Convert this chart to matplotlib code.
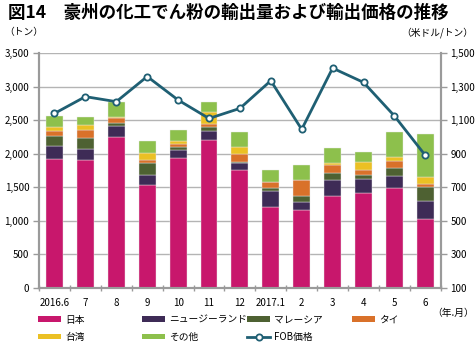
import numpy as np
import matplotlib.pyplot as plt
from matplotlib.lines import Line2D
from matplotlib.patches import Patch
from matplotlib.ticker import FuncFormatter

plt.rcParams['font.family'] = ['Noto Sans CJK JP', 'DejaVu Sans']

months = ['2016.6', '7', '8', '9', '10', '11', '12', '2017.1', '2', '3', '4', '5', '6']

# export volume by destination (tonnes)
japan    = [1920, 1910, 2250, 1530, 1930, 2200, 1750, 1200, 1160, 1370, 1420, 1485, 1030]
nz       = [200, 155, 170, 160, 120, 135, 115, 250, 120, 245, 205, 190, 270]
malaysia = [140, 175, 35, 165, 45, 70, 15, 35, 90, 100, 55, 105, 205]
thailand = [80, 115, 70, 45, 55, 35, 110, 90, 245, 110, 70, 115, 50]
taiwan   = [60, 75, 20, 110, 40, 180, 110, 10, 0, 35, 130, 60, 100]
others   = [160, 120, 230, 175, 165, 150, 220, 170, 220, 230, 150, 375, 640]

# FOB price (USD/tonne)
fob = [1140, 1240, 1210, 1360, 1220, 1110, 1170, 1335, 1045, 1410, 1325, 1125, 890]

series = [
    ('日本', japan, '#C8176C'),
    ('ニュージーランド', nz, '#3E2B56'),
    ('マレーシア', malaysia, '#4E6132'),
    ('タイ', thailand, '#D9712A'),
    ('台湾', taiwan, '#EBC024'),
    ('その他', others, '#8DC04C'),
]
line_color = '#1F5F73'
spine_color = '#9a9a9a'
fs = 7

fig = plt.figure(figsize=(4.76, 3.42), dpi=100)
ax = fig.add_axes([0.082, 0.158, 0.844, 0.687])

x = np.arange(len(months))
bottom = np.zeros(len(months))
for name, vals, col in series:
    ax.bar(x, vals, 0.55, bottom=bottom, color=col, edgecolor='#e8e8e8',
           linewidth=0.3, zorder=2)
    bottom += np.array(vals)

ax.set_xlim(-0.5, len(months) - 0.5)
ax.set_ylim(0, 3500)
ax.set_yticks(np.arange(0, 3501, 500))
ax.yaxis.set_major_formatter(FuncFormatter(lambda v, p: f'{int(v):,}'))
ax.yaxis.grid(True, color='#b4b4b4', linewidth=1.0, zorder=0)
ax.set_axisbelow(True)

ax.set_xticks(x)
ax.set_xticklabels(months, fontsize=fs)
ax.set_xticks(np.arange(-0.5, len(months), 1), minor=True)
ax.tick_params(axis='x', which='major', length=0, pad=7)
ax.tick_params(axis='x', which='minor', length=4, direction='inout',
               color=spine_color, width=1)
ax.tick_params(axis='y', labelsize=fs, length=4, color=spine_color, width=1, pad=3)

for s in ['left', 'bottom', 'right']:
    ax.spines[s].set_color(spine_color)
    ax.spines[s].set_linewidth(1.5)
ax.spines['top'].set_visible(False)

ax2 = ax.twinx()
ax2.plot(x, fob, color=line_color, linewidth=2, marker='o', markersize=4.5,
         markerfacecolor='white', markeredgecolor=line_color, markeredgewidth=1.3,
         zorder=5)
ax2.set_ylim(100, 1500)
ax2.set_yticks(np.arange(100, 1501, 200))
ax2.yaxis.set_major_formatter(FuncFormatter(lambda v, p: f'{int(v):,}'))
ax2.tick_params(axis='y', labelsize=fs, length=4, color=spine_color, width=1, pad=3)
for s in ['left', 'bottom', 'right']:
    ax2.spines[s].set_color(spine_color)
    ax2.spines[s].set_linewidth(1.5)
ax2.spines['top'].set_visible(False)

fig.text(0.016, 0.963, '図14　豪州の化工でん粉の輸出量および輸出価格の推移',
         fontsize=12.6, fontweight='bold', va='center', ha='left')
fig.text(0.008, 0.905, '（トン）', fontsize=fs, va='center', ha='left')
fig.text(0.995, 0.905, '（米ドル/トン）', fontsize=fs, va='center', ha='right')
fig.text(0.995, 0.085, '（年.月）', fontsize=fs, va='center', ha='right')

# legend laid out as four columns, two rows
handles = [Patch(facecolor=c, edgecolor='none') for _, _, c in series]
fob_handle = Line2D([], [], color=line_color, linewidth=2, marker='o', markersize=4.5,
                    markerfacecolor='white', markeredgecolor=line_color,
                    markeredgewidth=1.3)
cols = [
    ([handles[0], handles[4]], ['日本', '台湾']),
    ([handles[1], handles[5]], ['ニュージーランド', 'その他']),
    ([handles[2], fob_handle], ['マレーシア', 'FOB価格']),
    ([handles[3]], ['タイ']),
]
col_x = [0.080, 0.298, 0.519, 0.739]
for (hs, ls), cx in zip(cols, col_x):
    fig.legend(hs, ls, loc='upper left', bbox_to_anchor=(cx, 0.080),
               frameon=False, fontsize=fs, handlelength=2.4, handleheight=0.5,
               handletextpad=0.4, labelspacing=0.75, borderaxespad=0,
               borderpad=0)

fig.savefig('out.png', dpi=100)
